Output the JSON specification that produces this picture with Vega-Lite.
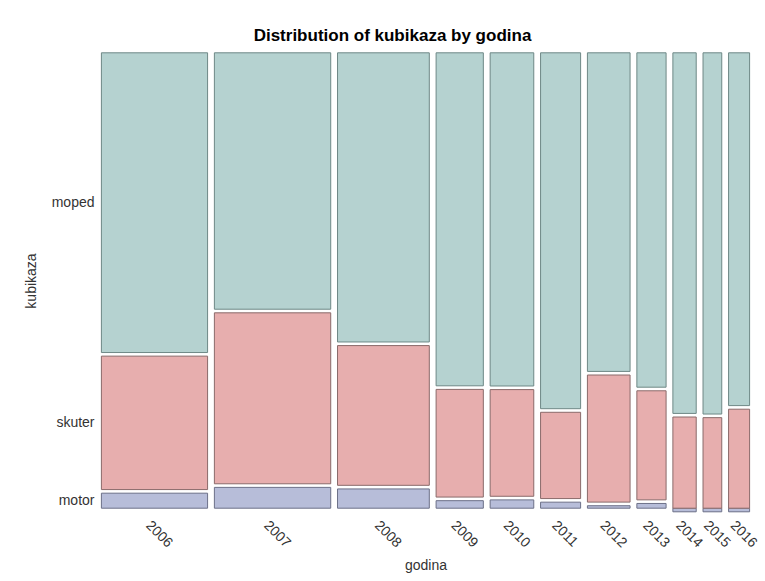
{
  "$schema": "https://vega.github.io/schema/vega-lite/v6.json",
  "autosize": {"type": "none"},
  "width": 655,
  "height": 459,
  "padding": {"left": 98, "top": 51, "right": 12, "bottom": 71},
  "background": "white",
  "config": {
    "view": {"stroke": null},
    "font": "Liberation Sans"
  },
  "title": {
    "text": "Distribution of kubikaza by godina",
    "font": "Liberation Sans",
    "fontSize": 17,
    "fontWeight": "bold",
    "color": "#000000",
    "anchor": "middle",
    "frame": "group",
    "dx": -33,
    "offset": 6
  },
  "data": {
    "values": [
      {"godina": "2006", "kubikaza": "motor", "count": 14},
      {"godina": "2006", "kubikaza": "skuter", "count": 103},
      {"godina": "2006", "kubikaza": "moped", "count": 228},
      {"godina": "2007", "kubikaza": "motor", "count": 20},
      {"godina": "2007", "kubikaza": "skuter", "count": 143},
      {"godina": "2007", "kubikaza": "moped", "count": 213},
      {"godina": "2008", "kubikaza": "motor", "count": 15},
      {"godina": "2008", "kubikaza": "skuter", "count": 94},
      {"godina": "2008", "kubikaza": "moped", "count": 192},
      {"godina": "2009", "kubikaza": "motor", "count": 4},
      {"godina": "2009", "kubikaza": "skuter", "count": 40},
      {"godina": "2009", "kubikaza": "moped", "count": 121},
      {"godina": "2010", "kubikaza": "motor", "count": 4},
      {"godina": "2010", "kubikaza": "skuter", "count": 37},
      {"godina": "2010", "kubikaza": "moped", "count": 113},
      {"godina": "2011", "kubikaza": "motor", "count": 3},
      {"godina": "2011", "kubikaza": "skuter", "count": 28},
      {"godina": "2011", "kubikaza": "moped", "count": 112},
      {"godina": "2012", "kubikaza": "motor", "count": 2},
      {"godina": "2012", "kubikaza": "skuter", "count": 43},
      {"godina": "2012", "kubikaza": "moped", "count": 106},
      {"godina": "2013", "kubikaza": "motor", "count": 2},
      {"godina": "2013", "kubikaza": "skuter", "count": 27},
      {"godina": "2013", "kubikaza": "moped", "count": 81},
      {"godina": "2014", "kubikaza": "motor", "count": 0},
      {"godina": "2014", "kubikaza": "skuter", "count": 19},
      {"godina": "2014", "kubikaza": "moped", "count": 73},
      {"godina": "2015", "kubikaza": "motor", "count": 0},
      {"godina": "2015", "kubikaza": "skuter", "count": 16},
      {"godina": "2015", "kubikaza": "moped", "count": 62},
      {"godina": "2016", "kubikaza": "motor", "count": 0},
      {"godina": "2016", "kubikaza": "skuter", "count": 19},
      {"godina": "2016", "kubikaza": "moped", "count": 66}
    ]
  },
  "transform": [
    {"stack": "count", "groupby": [], "offset": "zero", "as": ["sx0", "sx1"]},
    {"joinaggregate": [
      {"op": "min", "field": "sx0", "as": "x0"},
      {"op": "max", "field": "sx1", "as": "x1"}
    ], "groupby": ["godina"]},
    {"stack": "count", "groupby": ["godina"], "offset": "normalize", "as": ["y0", "y1"]}
  ],
  "mark": {
    "type": "rect",
    "strokeWidth": 1,
    "xOffset": 3.4,
    "x2Offset": -3.4,
    "yOffset": -1.8,
    "y2Offset": 1.8
  },
  "encoding": {
    "x": {
      "field": "x0",
      "type": "quantitative",
      "scale": {"domain": [0, 2000], "nice": false, "zero": false},
      "axis": {
        "title": "godina",
        "values": [172.5, 533, 871.5, 1104.5, 1264, 1412.5, 1559.5, 1690, 1791, 1876, 1957.5],
        "labelExpr": "datum.value < 345 ? '2006' : datum.value < 721 ? '2007' : datum.value < 1022 ? '2008' : datum.value < 1187 ? '2009' : datum.value < 1341 ? '2010' : datum.value < 1484 ? '2011' : datum.value < 1635 ? '2012' : datum.value < 1745 ? '2013' : datum.value < 1837 ? '2014' : datum.value < 1915 ? '2015' : '2016'",
        "grid": false,
        "domain": false,
        "ticks": false,
        "tickSize": 0,
        "labelAngle": 45,
        "labelAlign": "left",
        "labelBaseline": "middle",
        "labelOffset": -7,
        "labelPadding": 13,
        "labelFontSize": 14,
        "labelColor": "#333333",
        "labelFont": "Liberation Sans",
        "labelOverlap": false,
        "labelFlush": false,
        "titleFont": "Liberation Sans",
        "titleFontSize": 14,
        "titleFontWeight": "normal",
        "titleColor": "#333333",
        "titlePadding": 9
      }
    },
    "x2": {"field": "x1"},
    "y": {
      "field": "y0",
      "type": "quantitative",
      "scale": {"domain": [0, 1], "nice": false},
      "axis": {
        "title": "kubikaza",
        "values": [0.02029, 0.18986, 0.66957],
        "labelExpr": "datum.value < 0.1 ? 'motor' : datum.value < 0.5 ? 'skuter' : 'moped'",
        "grid": false,
        "domain": false,
        "ticks": false,
        "tickSize": 0,
        "labelPadding": 4,
        "labelFontSize": 14,
        "labelColor": "#333333",
        "labelFont": "Liberation Sans",
        "labelOverlap": false,
        "labelFlush": false,
        "titleFont": "Liberation Sans",
        "titleFontSize": 14,
        "titleFontWeight": "normal",
        "titleColor": "#333333",
        "titlePadding": 13
      }
    },
    "y2": {"field": "y1"},
    "fill": {
      "field": "kubikaza",
      "type": "nominal",
      "scale": {"domain": ["moped", "skuter", "motor"], "range": ["#B5D2D0", "#E7AEAE", "#B7BDD9"]},
      "legend": null
    },
    "stroke": {
      "field": "kubikaza",
      "type": "nominal",
      "scale": {"domain": ["moped", "skuter", "motor"], "range": ["#6E8886", "#8A6A6A", "#6C7088"]},
      "legend": null
    }
  }
}
